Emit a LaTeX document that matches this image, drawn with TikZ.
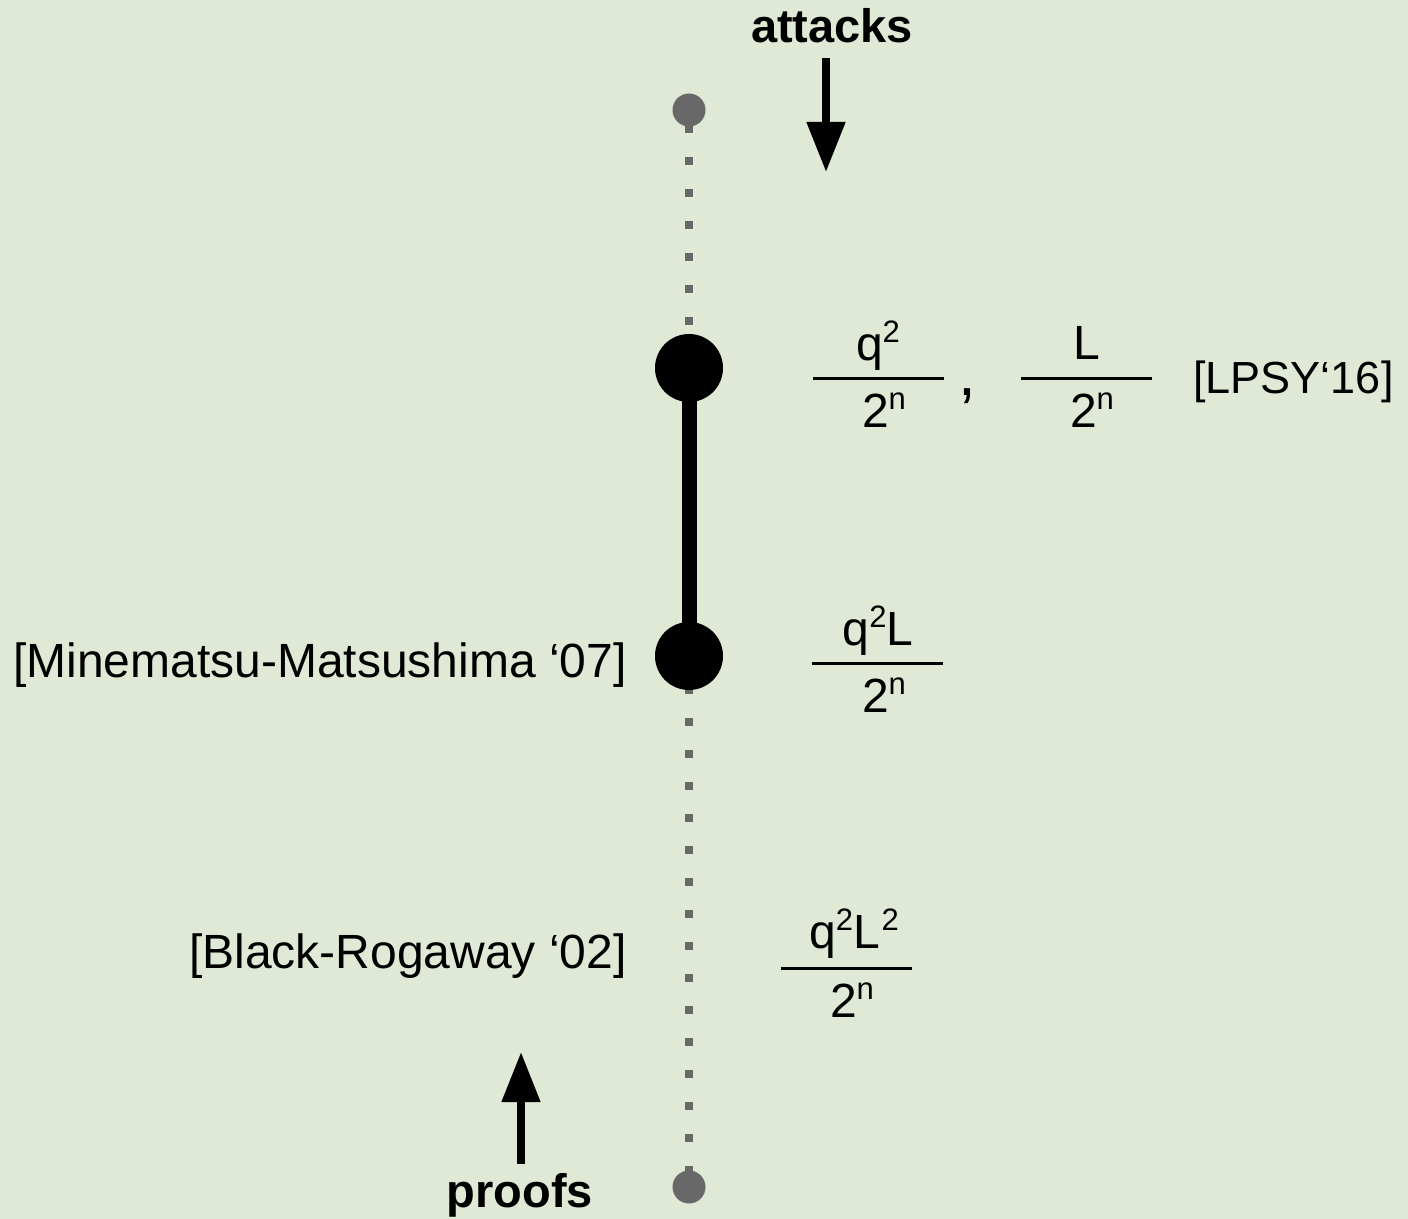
\documentclass[tikz,border=0pt]{standalone}
\usepackage{fontspec}
\setmainfont{Liberation Sans}
\usetikzlibrary{arrows.meta,backgrounds}

\definecolor{slidebg}{RGB}{224,233,213}
\definecolor{dotgray}{RGB}{104,104,104}

% small raised exponent
\newcommand{\upi}[1]{\raisebox{9pt}{\fontsize{15.5}{15.5}\selectfont #1}}

\begin{document}
\begin{tikzpicture}[x=0.5pt, y=-0.5pt,
    every node/.style={inner sep=0pt, font=\fontsize{24}{28}\selectfont},
    bigdot/.style={circle, fill=black, minimum size=34pt},
    smalldot/.style={circle, fill=dotgray, minimum size=16.5pt},
    fracbar/.style={rectangle, fill=black, minimum height=1.5pt, minimum width=65.5pt},
    bound/.style={line width=4pt, dotgray, dash pattern=on 4pt off 12pt},
    arrow/.style={line width=4pt, -{Triangle[width=18.5pt, length=25pt]}},
    title/.style={font=\fontsize{23.5}{28}\selectfont\bfseries}]

  % points on the bound line
  \node[smalldot] (top) at (689,110) {};
  \node[bigdot] (lpsy) at (689,368) {};
  \node[bigdot] (mm) at (689,656) {};
  \node[smalldot] (bottom) at (689,1187) {};

  \begin{scope}[on background layer]
    \fill[slidebg] (0,0) rectangle (1408,1219);
    \draw[bound, dash phase=8.5pt] (top.center) -- (lpsy.center);
    \draw[bound, dash phase=1pt] (mm.center) -- (bottom.center);
    \draw[line width=7.5pt] (lpsy.center) -- (mm.center);
  \end{scope}

  % attacks / proofs
  \node[title, anchor=base] (attacks) at (832,43) {attacks};
  \coordinate (atkfrom) at (826,58);
  \coordinate (atkto) at (826,172);
  \draw[arrow] (atkfrom) -- (atkto);

  \node[title, anchor=base] (proofs) at (520,1207) {proofs};
  \coordinate (prffrom) at (521,1164);
  \coordinate (prfto) at (521,1052);
  \draw[arrow] (prffrom) -- (prfto);

  % q^2/2^n , L/2^n
  \node[fracbar] (bar1) at (878,379) {};
  \node[anchor=base] (num1) at (878,361) {q\upi{2}};
  \node[anchor=base] (den1) at (884,428) {2\upi{n}};
  \node[anchor=base, font=\fontsize{32}{32}\selectfont] (comma) at (967,396) {,};
  \node[fracbar] (bar2) at (1086,379) {};
  \node[anchor=base] (num2) at (1087,360) {L};
  \node[anchor=base] (den2) at (1092,428) {2\upi{n}};
  \node[anchor=base west, font=\fontsize{22.5}{28}\selectfont] (lpsyref) at (1193,394) {[LPSY‘16]};

  % q^2 L/2^n
  \node[fracbar] (bar3) at (877,663) {};
  \node[anchor=base] (num3) at (878,645) {q\upi{2}L};
  \node[anchor=base] (den3) at (884,712) {2\upi{n}};
  \node[anchor=base east] (mmref) at (627,677) {[Minematsu-Matsushima ‘07]};

  % q^2 L^2/2^n
  \node[fracbar] (bar4) at (846,968) {};
  \node[anchor=base] (num4) at (854,948) {q\upi{2}L\kern1pt\upi{2}};
  \node[anchor=base] (den4) at (852,1017) {2\upi{n}};
  \node[anchor=base east] (brref) at (627,968) {[Black-Rogaway ‘02]};
\end{tikzpicture}
\end{document}
